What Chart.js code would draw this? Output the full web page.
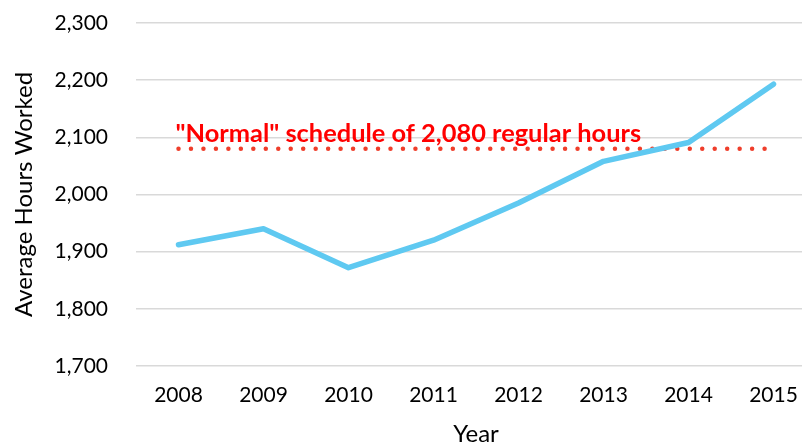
<!DOCTYPE html>
<html>
<head>
<meta charset="utf-8">
<script src="https://cdn.jsdelivr.net/npm/chart.js@4"></script>
<style>
html,body{margin:0;padding:0;background:#fff;overflow:hidden;}
#wrap{width:816px;height:445px;position:relative;}
</style>
</head>
<body>
<div id="wrap"><canvas id="c" width="816" height="445"></canvas></div>
<script>
const years = ['2008','2009','2010','2011','2012','2013','2014','2015'];
const avgHours = [1912, 1940, 1872, 1920, 1985, 2058, 2091, 2193];
const normalHours = [2080, 2080, 2080, 2080, 2080, 2080, 2080, 2080];
const normalLabel = '"Normal" schedule of 2,080 regular hours';
const yTitle = 'Average Hours Worked';
const xTitle = 'Year';

const FONT = 'Lato, "Open Sans", sans-serif';

const labelPlugin = {
  id: 'normalLabel',
  afterDatasetsDraw(chart) {
    const ctx = chart.ctx;
    const xs = chart.scales.x, ys = chart.scales.y;
    ctx.save();
    ctx.font = 'bold 25.4px ' + FONT;
    ctx.fillStyle = '#ff0000';
    ctx.textBaseline = 'alphabetic';
    ctx.textAlign = 'left';
    ctx.fillText(normalLabel, xs.getPixelForValue(0) - 3, ys.getPixelForValue(normalHours[0]) - 7);
    ctx.restore();
  }
};

new Chart(document.getElementById('c'), {
  type: 'line',
  data: {
    labels: years,
    datasets: [
      {
        data: avgHours,
        borderColor: '#5fc9f1',
        borderWidth: 5.5,
        pointRadius: 0,
        tension: 0,
        borderCapStyle: 'round',
        borderJoinStyle: 'round',
        order: 1
      },
      {
        data: normalHours,
        borderColor: '#ef3e2b',
        borderWidth: 4.5,
        borderDash: [0, 12.47],
        borderCapStyle: 'round',
        pointRadius: 0,
        order: 2
      }
    ]
  },
  options: {
    responsive: false,
    animation: false,
    layout: { padding: { top: 23, right: 0, left: 0, bottom: 0 } },
    plugins: { legend: { display: false }, tooltip: { enabled: false } },
    scales: {
      x: {
        offset: true,
        grid: { display: false, drawTicks: false },
        border: { display: false },
        ticks: { color: '#000', font: { family: FONT, size: 21 }, padding: 17 },
        title: { display: true, text: xTitle, color: '#000', font: { family: FONT, size: 24 }, padding: { top: 4, bottom: -4 } },
        afterFit(s) { s.height = 79; }
      },
      y: {
        min: 1700, max: 2300,
        grid: { color: '#d9d9d9', lineWidth: 1.5, drawTicks: false },
        border: { display: false },
        ticks: {
          stepSize: 100, color: '#000', font: { family: FONT, size: 21 }, padding: 28,
          callback: v => v.toLocaleString('en-US')
        },
        title: { display: true, text: yTitle, color: '#000', font: { family: FONT, size: 24 }, padding: { top: 10, bottom: 4 } },
        afterFit(s) { s.width = 136; s.paddingTop = 0; s.paddingBottom = 0; }
      }
    }
  },
  plugins: [labelPlugin]
});
</script>
</body>
</html>
